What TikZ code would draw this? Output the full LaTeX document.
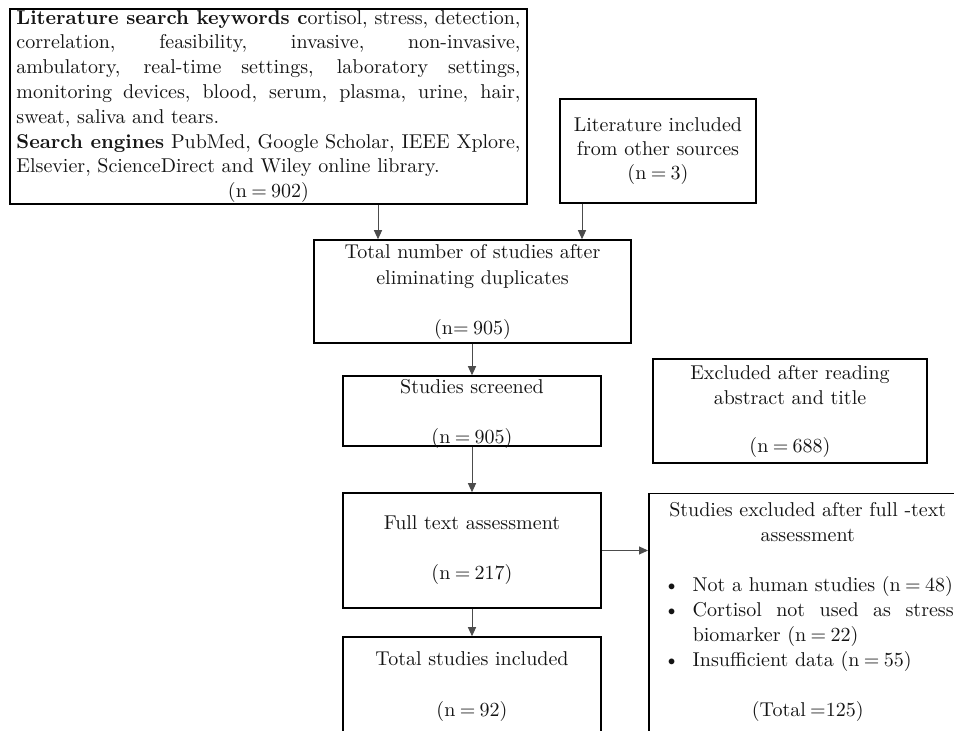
\documentclass[tikz,border=0pt]{standalone}
\usetikzlibrary{arrows.meta}
\hyphenpenalty=10000
\exhyphenpenalty=10000
\newcommand{\nval}[1]{(n\hspace{2.2pt}=\hspace{2.2pt}#1)}
\begin{document}
\begin{tikzpicture}[x=0.5pt,y=-0.5pt,
  box/.style={draw=black, line width=0.75pt, inner sep=0pt, align=center,
    font=\fontsize{10}{12.5}\selectfont, text=black!92},
  arr/.style={draw=black!70, line width=0.5pt, -{Triangle[length=4.5pt,width=4pt]}}]
\useasboundingbox (0,0) rectangle (954,731);
\clip (0,0) rectangle (954,731);

% top-left: search box
\node[box, minimum width=258.5pt, minimum height=97.5pt, text width=252pt, align=left,
  font=\fontsize{10}{12.4}\selectfont] (b1) at (268.5,106.5) {\spaceskip=0pt\xspaceskip=0pt%
\makebox[252pt][s]{\textbf{Literature search keywords c}ortisol, stress, detection,}\\
\makebox[252pt][s]{correlation, feasibility, invasive, non-invasive,}\\
\makebox[252pt][s]{ambulatory, real-time settings, laboratory settings,}\\
\makebox[252pt][s]{monitoring devices, blood, serum, plasma, urine, hair,}\\
sweat, saliva and tears.\\
\makebox[252pt][s]{\textbf{Search engines} PubMed, Google Scholar, IEEE Xplore,}\\
Elsevier, ScienceDirect and Wiley online library.\\
\makebox[252pt][c]{\nval{902}}};

% other sources
\node[box, minimum width=98pt, minimum height=52pt, font=\fontsize{10}{11.8}\selectfont] (b2) at (658,151)
  {Literature included\\from other sources\\\nval{3}};

% after duplicates
\node[box, minimum width=158.5pt, minimum height=51.5pt, font=\fontsize{10}{13}\selectfont] (b3) at (472.5,291.5)
  {Total number of studies after\\eliminating duplicates\\[12pt](n=\hspace{2.2pt}905)};

% screened
\node[box, minimum width=129pt, minimum height=35pt, text depth=0pt] (b4) at (472,411)
  {\raisebox{0pt}[8pt][0pt]{}Studies screened\\[12.5pt]\nval{905}};

% excluded abstract
\node[box, minimum width=137pt, minimum height=52pt] (ex) at (790,411)
  {Excluded after reading\\abstract and title\\[11.5pt]\nval{688}};

% full text
\node[box, minimum width=129pt, minimum height=57.5pt] (b5) at (472,550.5)
  {Full text assessment\\[12.5pt]\nval{217}};

% included
\node[box, minimum width=129pt, minimum height=49.5pt] (b6) at (472,686.5)
  {Total studies included\\[13pt]\nval{92}};

% excluded after full text
\node[box, anchor=north west, align=left] (b7) at (648,493) {%
\parbox[c][130pt][t]{159pt}{\fontsize{10}{12.5}\selectfont
\vspace*{4.5pt}%
{\centering Studies excluded after full -text\\ assessment\par}
\vspace{12.5pt}
\noindent\hspace*{7.5pt}\makebox[14.5pt][l]{\textbullet}Not a human studies \nval{48}\par
\noindent\hspace*{7.5pt}\makebox[14.5pt][l]{\textbullet}\makebox[130.5pt][s]{Cortisol not used as stress}\par
\noindent\hspace*{22pt}biomarker \nval{22}\par
\noindent\hspace*{7.5pt}\makebox[14.5pt][l]{\textbullet}Insufficient data \nval{55}\par
\vspace{12.5pt}
{\centering (Total\hspace{2.2pt}=125)\par}}};

% connectors
\coordinate (c1) at (378,0);
\coordinate (c2) at (582,0);
\draw[arr] (b1.south -| c1) -- (b3.north -| c1);
\draw[arr] (b2.south -| c2) -- (b3.north -| c2);
\draw[arr] (b3.south -| b4.north) -- (b4.north);
\draw[arr] (b4.south) -- (b5.north);
\draw[arr] (b5.south) -- (b6.north);
\draw[arr] (b5.east) -- (b5.east -| b7.west);
\end{tikzpicture}
\end{document}
